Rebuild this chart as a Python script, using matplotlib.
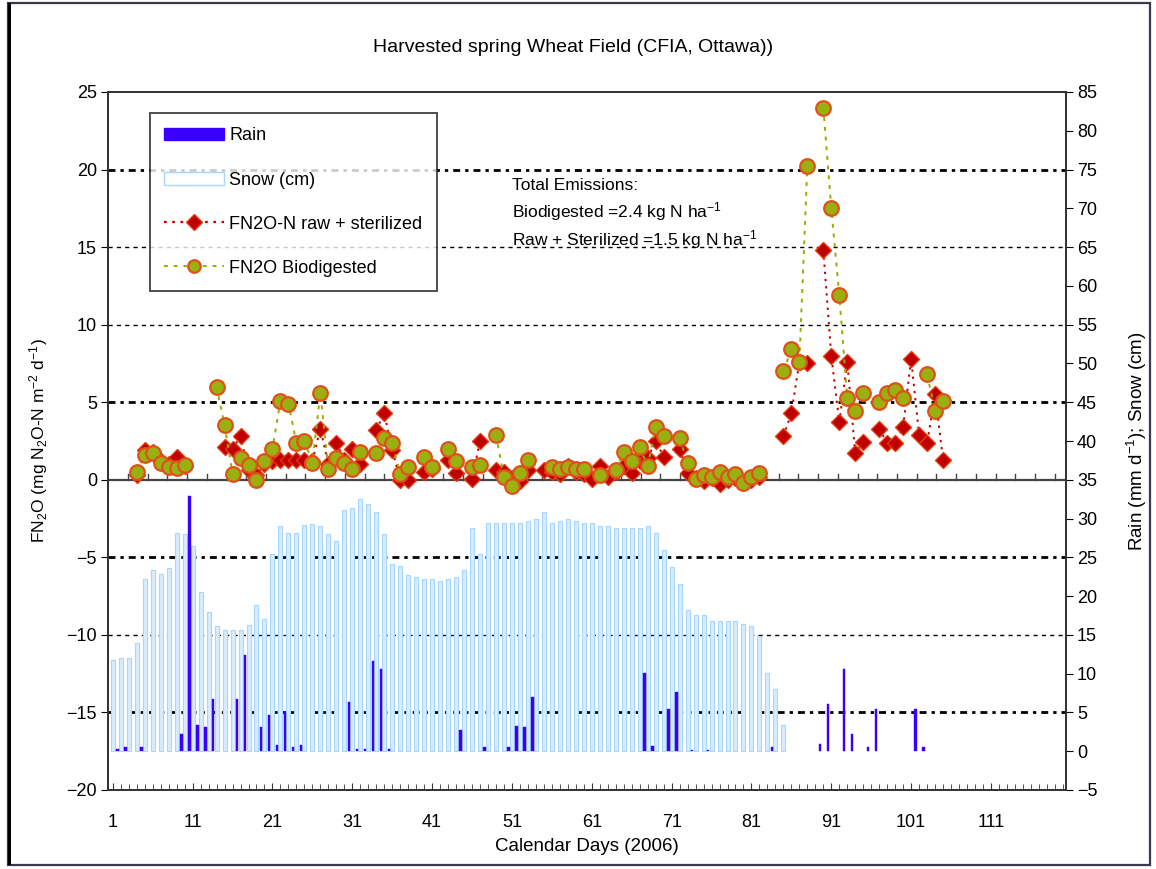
import numpy as np
import matplotlib
matplotlib.use("Agg")
import matplotlib.pyplot as plt
from matplotlib.lines import Line2D
from matplotlib.patches import Patch, Rectangle
from matplotlib import font_manager

nan = np.nan

# ---------------- data ----------------
days = list(range(1, 106))

bio_biodigested = [
    nan, nan, nan, 0.5, 1.6, 1.7, 1.1, 0.85, 0.75, 0.95,      # 1-10
    nan, nan, nan, 6.0, 3.5, 0.4, 1.4, 0.95, 0.0, 1.2,        # 11-20
    2.0, 5.1, 4.9, 2.4, 2.5, 1.1, 5.6, 0.7, 1.4, 1.1,         # 21-30
    0.7, 1.8, nan, 1.7, 2.7, 2.4, 0.35, 0.8, nan, 1.5,        # 31-40
    0.85, nan, 2.0, 1.2, nan, 0.8, 0.95, nan, 2.9, 0.15,      # 41-50
    -0.4, 0.45, 1.3, nan, nan, 0.85, 0.7, 0.8, 0.7, 0.7,      # 51-60
    nan, 0.3, nan, 0.6, 1.8, 1.2, 2.1, 0.9, 3.4, 2.8,         # 61-70
    nan, 2.7, 1.1, 0.05, 0.3, 0.2, 0.5, 0.2, 0.35, -0.2,      # 71-80
    0.2, 0.45, nan, nan, 7.0, 8.4, 7.6, 20.2, nan, 24.0,      # 81-90
    17.5, 11.9, 5.3, 4.45, 5.6, nan, 5.0, 5.6, 5.8, 5.25,     # 91-100
    nan, nan, 6.8, 4.45, 5.05,                                # 101-105
]

raw_sterilized = [
    nan, nan, nan, 0.3, 1.9, 1.8, 1.2, 1.0, 1.5, 0.9,         # 1-10
    nan, nan, nan, nan, 2.1, 2.0, 2.8, 0.6, 0.3, 1.0,         # 11-20
    1.2, 1.3, 1.3, 1.3, 1.3, 1.2, 3.3, 1.0, 2.4, 1.3,         # 21-30
    2.0, 1.0, nan, 3.2, 4.3, 1.9, 0.0, 0.0, nan, 0.5,         # 31-40
    0.7, nan, 1.3, 0.45, nan, 0.05, 2.5, nan, 0.65, 0.5,      # 41-50
    0.1, -0.1, 0.6, nan, 0.65, 0.5, 0.4, 0.9, 0.5, 0.4,       # 51-60
    0.05, 0.9, 0.2, 0.5, 0.9, 0.45, 1.2, 1.4, 2.5, 1.5,       # 61-70
    nan, 2.0, 0.45, 0.1, -0.05, 0.1, -0.25, 0.0, 0.1, -0.2,   # 71-80
    0.0, 0.2, nan, nan, 2.8, 4.3, 7.6, 7.5, nan, 14.8,        # 81-90
    8.0, 3.7, 7.6, 1.7, 2.45, nan, 3.3, 2.35, 2.35, 3.4,      # 91-100
    7.8, 2.9, 2.35, 5.5, 1.3,                                 # 101-105
]

snow_days = list(range(1, 86))
snow_cm = [
    11.8, 12.0, 12.0, 14.0, 22.2, 23.4, 22.8, 23.6, 28.2, 28.0,
    26.5, 20.5, 17.9, 16.2, 15.6, 15.6, 15.6, 16.3, 18.8, 17.1,
    25.4, 29.1, 28.2, 28.2, 29.2, 29.3, 29.1, 28.0, 27.1, 31.1,
    31.3, 32.5, 31.9, 30.8, 28.0, 24.2, 23.9, 22.7, 22.5, 22.2,
    22.2, 22.0, 22.2, 22.5, 23.4, 28.8, 25.4, 29.4, 29.4, 29.4,
    29.4, 29.4, 29.7, 29.9, 30.8, 29.4, 29.7, 29.9, 29.7, 29.4,
    29.4, 29.1, 29.1, 28.8, 28.8, 28.8, 28.8, 29.1, 28.2, 25.9,
    23.7, 21.6, 18.2, 17.6, 17.6, 16.8, 16.8, 16.8, 16.8, 16.4,
    16.2, 14.8, 10.1, 8.0, 3.4,
]

rain_days = [2, 3, 5, 10, 11, 12, 13, 14, 17, 18, 20, 21, 22, 23, 24, 25,
             31, 32, 33, 34, 35, 36, 45, 48, 51, 52, 53, 54, 68, 69, 71, 72,
             74, 76, 84, 90, 91, 93, 94, 96, 97, 102, 103]
rain_mm = [0.3, 0.5, 0.5, 2.2, 32.9, 3.4, 3.1, 6.7, 6.7, 12.4, 3.1, 4.7, 0.8,
           5.0, 0.5, 0.8, 6.4, 0.3, 0.3, 11.6, 10.6, 0.3, 2.8, 0.5, 0.5, 3.3,
           3.1, 7.0, 10.1, 0.7, 5.5, 7.6, 0.2, 0.2, 0.5, 0.9, 6.1, 10.6, 2.2,
           0.5, 5.5, 5.5, 0.5]

x_ticks = [1, 11, 21, 31, 41, 51, 61, 71, 81, 91, 101, 111]
x_tick_labels = ["1", "11", "21", "31", "41", "51", "61", "71", "81", "91", "101", "111"]

# ---------------- fonts ----------------
avail = {f.name for f in font_manager.fontManager.ttflist}
fam = "Liberation Sans" if "Liberation Sans" in avail else "DejaVu Sans"
plt.rcParams["font.family"] = [fam, "DejaVu Sans"]
plt.rcParams["mathtext.fontset"] = "custom"
plt.rcParams["mathtext.rm"] = fam
plt.rcParams["mathtext.it"] = fam
plt.rcParams["mathtext.default"] = "rm"

FS = 13
W, H = 1156, 869
fig = plt.figure(figsize=(W / 100, H / 100), dpi=100)

# outer frame
fig.patches.append(Rectangle((8 / W, 4 / H), (1150 - 8) / W, (866 - 4) / H,
                             transform=fig.transFigure, fill=False,
                             edgecolor="#3a3a4a", lw=1.6))
fig.patches.append(Rectangle((8 / W, 4 / H), 3 / W, (866 - 4) / H,
                             transform=fig.transFigure, color="black", lw=0))

L, R, T, B = 108, 1066, 92, 790
ax = fig.add_axes([L / W, 1 - B / H, (R - L) / W, (B - T) / H])
ax2 = ax.twinx()

ax.set_xlim(0.4, 120.4)
ax.set_ylim(-20, 25)
ax2.set_ylim(-5, 85)

# gridlines
heavy = [20, 5, -5, -15]
light = [15, 10, -10]
for g in heavy:
    ax.axhline(g, color="black", lw=2.0, ls=(0, (2.5, 1.8, 1.2, 1.8)), zorder=0.5)
for g in light:
    ax.axhline(g, color="black", lw=1.0, ls=(0, (3, 3)), zorder=0.5)
ax.axhline(0, color="#444444", lw=1.6, zorder=1)
# small ticks on the zero line
for xt in np.arange(2.9, 120, 2.47):
    ax.plot([xt, xt], [0, 0.35], color="#444444", lw=1.0, zorder=1)

# bars (right axis)
sd = np.array(snow_days, dtype=float)
ax2.bar(sd, snow_cm, width=0.5, color="#d6ecff", edgecolor="#a8d6ff",
        lw=0.8, zorder=2)
rd = np.array(rain_days, dtype=float) - 0.42
ax2.bar(rd, rain_mm, width=0.32, color="#3a00ff", edgecolor="#3a00ff",
        lw=0.3, zorder=3)

# series (left axis)
d = np.array(days, dtype=float)
ax.plot(d, raw_sterilized, color="#c00000", ls=(0, (1.2, 2.5)), lw=1.4,
        marker="D", ms=8.5, mfc="#c00000", mec="#e03a10", mew=1.0, zorder=4)
ax.plot(d, bio_biodigested, color="#9aaa00", ls=(0, (2.0, 3.0)), lw=1.4,
        marker="o", ms=10.5, mfc="#9ab010", mec="#e0501a", mew=1.6, zorder=5)

# ticks
ax.set_xticks(x_ticks)
ax.set_xticklabels(x_tick_labels)
ax.set_xticks(np.arange(1, 121, 1), minor=True)
ax.tick_params(axis="x", which="major", direction="in", length=5, pad=17,
               labelsize=FS, color="#333333")
ax.tick_params(axis="x", which="minor", direction="in", length=4, color="#333333")
ax.set_yticks(np.arange(-20, 26, 5))
ax.tick_params(axis="y", direction="out", length=5, labelsize=FS, pad=3)
ax2.set_yticks(np.arange(-5, 86, 5))
ax2.tick_params(axis="y", direction="out", length=5, labelsize=FS, pad=3)

for a in (ax, ax2):
    for s in a.spines.values():
        s.set_color("#333333")
        s.set_linewidth(1.3)

ax.set_ylabel("FN$_2$O (mg N$_2$O-N m$^{-2}$ d$^{-1}$)", fontsize=12.5, labelpad=12)
ax2.set_ylabel("Rain (mm d$^{-1}$); Snow (cm)", fontsize=13.5, labelpad=20,
               rotation=90)
ax.set_xlabel("Calendar Days (2006)", fontsize=13.5, labelpad=5)
fig.text(573 / W, 1 - 48 / H, "Harvested spring Wheat Field (CFIA, Ottawa))",
         ha="center", va="center", fontsize=14)

# annotation
fig.text(512 / W, 1 - 185 / H, "Total Emissions:", fontsize=12.5,
         ha="left", va="center")
fig.text(512 / W, 1 - 212 / H, "Biodigested =2.4 kg N ha$^{-1}$", fontsize=12.5,
         ha="left", va="center")
fig.text(512 / W, 1 - 240 / H, "Raw + Sterilized =1.5 kg N ha$^{-1}$", fontsize=12.5,
         ha="left", va="center")

# legend
handles = [
    Patch(facecolor="#3a00ff", edgecolor="#3a00ff"),
    Patch(facecolor="white", edgecolor="#a8d6ff"),
    Line2D([], [], color="#c00000", ls=(0, (1.2, 2.5)), lw=1.6, marker="D",
           ms=8, mfc="#c00000", mec="#e03a10"),
    Line2D([], [], color="#9aaa00", ls=(0, (2.0, 3.0)), lw=1.4, marker="o",
           ms=9, mfc="#9ab010", mec="#e0501a", mew=1.6),
]
labels = ["Rain", "Snow (cm)", "FN2O-N raw + sterilized", "FN2O Biodigested"]
leg = ax2.legend(handles, labels, loc="upper left",
                 bbox_to_anchor=((150 - L) / (R - L), (B - 113) / (B - T)),
                 borderaxespad=0, frameon=True, fancybox=False,
                 fontsize=13, labelspacing=1.5, handlelength=3.3,
                 handletextpad=0.3, borderpad=0.8)
leg.get_frame().set_edgecolor("#222222")
leg.get_frame().set_linewidth(1.4)
leg.set_zorder(10)

fig.savefig("out.png", dpi=100)
